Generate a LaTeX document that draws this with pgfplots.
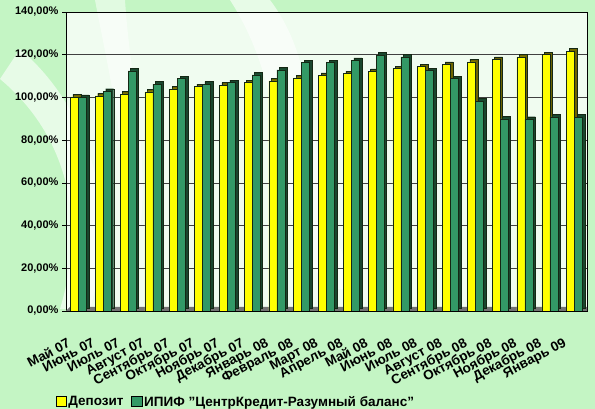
\documentclass[border=0pt]{standalone}
\usepackage{pgfplots}
\pgfplotsset{compat=1.18}
\usepackage{fontspec}
\setmainfont{Liberation Sans}
\definecolor{bgG}{RGB}{196,245,196}
\definecolor{depY}{RGB}{255,255,0}
\definecolor{depS}{RGB}{110,100,0}
\definecolor{ipifG}{RGB}{51,153,102}
\definecolor{ipifS}{RGB}{25,70,45}
\definecolor{edgeD}{RGB}{20,40,20}
\begin{document}
\begin{tikzpicture}
\useasboundingbox (0,0) rectangle (595pt,409pt);
\fill[bgG] (0,0) rectangle (595pt,409pt);
\fill[white,opacity=0.6] (230pt,409pt) .. controls (300pt,300pt) and (260pt,200pt) .. (330pt,120pt) -- (360pt,120pt) .. controls (300pt,220pt) and (330pt,330pt) .. (270pt,409pt) -- cycle;
\fill[white,opacity=0.6] (0pt,330pt) .. controls (60pt,280pt) and (90pt,200pt) .. (60pt,100pt) -- (90pt,100pt) .. controls (120pt,200pt) and (90pt,300pt) .. (20pt,360pt) -- cycle;
\fill[white,opacity=0.5] (95pt,409pt) .. controls (110pt,330pt) and (130pt,250pt) .. (120pt,180pt) -- (140pt,180pt) .. controls (150pt,250pt) and (130pt,330pt) .. (125pt,409pt) -- cycle;
\begin{axis}[
  at={(66pt,98pt)}, anchor=south west,
  scale only axis, width=521pt, height=299pt,
  ymin=0, ymax=140, xmin=-0.5, xmax=20.5,
  ytick={0,20,...,140},
  yticklabel={\pgfmathprintnumber[fixed,fixed zerofill,precision=2,use comma]{\tick}\%},
  /pgf/number format/assume math mode=true,
  yticklabel style={font=\bfseries\fontsize{11}{12}\selectfont},
  ymajorgrids, grid style={draw=black!75, line width=0.7pt},
  axis background/.style={fill=white, fill opacity=0.75},
  axis line style={draw=black!50, line width=0.8pt},
  y axis line style={draw=black, line width=0.8pt},
  tick style={draw=black, line width=0.7pt},
  ytick pos=left, tick align=outside, major tick length=4pt,
  xtick={0,...,20},
  xtick style={draw=none},
  minor xtick={-0.5,0.5,...,20.5},
  minor tick length=5pt,
  xticklabels={Май 07,Июнь 07,Июль 07,Август 07,Сентябрь 07,Октябрь 07,Ноябрь 07,Декабрь 07,Январь 08,Февраль 08,Март 08,Апрель 08,Май 08,Июнь 08,Июль 08,Август 08,Сентябрь 08,Октябрь 08,Ноябрь 08,Декабрь 08,Январь 09},
  xticklabel style={font=\bfseries\fontsize{13.5}{15}\selectfont, rotate=28, anchor=north east, inner sep=0pt, xshift=-21pt, yshift=-14pt},
  legend style={at={(0.326,-0.304)}, anchor=center, draw=none, fill=none,
    legend columns=-1, font=\bfseries\fontsize{13.5}{15}\selectfont,
    /tikz/every even column/.append style={column sep=6pt}},
  legend image code/.code={\draw[#1, draw=black] (0cm,-0.17cm) rectangle (0.36cm,0.19cm);},
]
\fill[black!55] (rel axis cs:0,0) -- ([xshift=4pt,yshift=4pt]rel axis cs:0,0) -- ([xshift=4pt,yshift=4pt]rel axis cs:1,0) -- (rel axis cs:1,0) -- cycle;
\addplot[ybar, bar width=8pt, bar shift=-4pt, fill=depS, draw=edgeD, line width=0.4pt, xshift=2.5pt, yshift=2.5pt, forget plot] coordinates {
(0,100.2) (1,100.7) (2,101.7) (3,102.6) (4,104.0) (5,105.1) (6,105.8) (7,106.9)
(8,107.8) (9,109.1) (10,110.3) (11,111.1) (12,112.2) (13,113.5) (14,114.4)
(15,115.5) (16,116.7) (17,117.8) (18,119.0) (19,120.0) (20,121.7)};
\addplot[ybar, bar width=8pt, bar shift=-4pt, fill=depY, draw=edgeD, line width=0.5pt] coordinates {
(0,100.2) (1,100.7) (2,101.7) (3,102.6) (4,104.0) (5,105.1) (6,105.8) (7,106.9)
(8,107.8) (9,109.1) (10,110.3) (11,111.1) (12,112.2) (13,113.5) (14,114.4)
(15,115.5) (16,116.7) (17,117.8) (18,119.0) (19,120.0) (20,121.7)};
\addplot[ybar, bar width=8pt, bar shift=4pt, fill=ipifS, draw=edgeD, line width=0.4pt, xshift=2.5pt, yshift=2.5pt, forget plot] coordinates {
(0,100.0) (1,102.9) (2,112.4) (3,106.2) (4,108.8) (5,106.2) (6,106.9) (7,110.5)
(8,112.9) (9,116.3) (10,116.3) (11,117.4) (12,119.8) (13,119.0) (14,112.5)
(15,108.8) (16,98.3) (17,90.0) (18,89.8) (19,90.9) (20,90.8)};
\addplot[ybar, bar width=8pt, bar shift=4pt, fill=ipifG, draw=edgeD, line width=0.5pt] coordinates {
(0,100.0) (1,102.9) (2,112.4) (3,106.2) (4,108.8) (5,106.2) (6,106.9) (7,110.5)
(8,112.9) (9,116.3) (10,116.3) (11,117.4) (12,119.8) (13,119.0) (14,112.5)
(15,108.8) (16,98.3) (17,90.0) (18,89.8) (19,90.9) (20,90.8)};
\legend{Депозит,ИПИФ "ЦентрКредит-Разумный баланс"}
\end{axis}
\end{tikzpicture}
\end{document}
